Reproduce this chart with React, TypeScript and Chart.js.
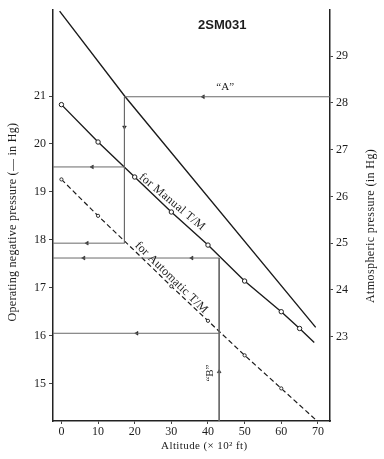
import React, { useEffect, useRef } from "react";
import { Chart, registerables } from "chart.js";

Chart.register(...registerables);

// ---- Data ----
// Altitude in units of 10^2 ft
const manualAltitudes = [0, 10, 20, 30, 40, 50, 60, 65, 69];
const manualValues = [20.82, 20.04, 19.31, 18.58, 17.89, 17.14, 16.5, 16.15, 15.86];
const manualMarkers = [1, 1, 1, 1, 1, 1, 1, 1, 0];

const autoAltitudes = [0, 10, 20, 30, 40, 50, 60, 69.5];
const autoValues = [19.26, 18.5, 17.77, 17.03, 16.31, 15.59, 14.9, 14.24];
const autoMarkers = [1, 1, 0, 1, 1, 1, 1, 0];

const atmAltitudes = [-0.5, 17.4, 69.4];
const atmValues = [29.96, 28.13, 23.2];

const xTicks = [0, 10, 20, 30, 40, 50, 60, 70];
const leftTicks = [15, 16, 17, 18, 19, 20, 21];
const rightTicks = [23, 24, 25, 26, 27, 28, 29];

const xRange = [-2.3, 73.3];
const leftRange = [14.22, 22.79];
const rightRange = [21.2, 29.98];

// Example "A": altitude 17.2 (x10^2 ft), atmospheric 28.13 in Hg
const exampleA = { alt: 17.2, atm: 28.13, left: 20.98, manual: 19.52, auto: 17.93 };
// Example "B": altitude 43.05 (x10^2 ft)
const exampleB = { alt: 43.05, manual: 17.62, auto: 16.05 };

// arrows: [altitude, value, direction(deg)]
const arrowsLeft = [
  [17.2, 20.35, 180],
  [8.4, 19.52, 270],
  [7.0, 17.93, 270],
  [6.1, 17.62, 270],
  [35.6, 17.62, 270],
  [20.6, 16.05, 270],
  [43.05, 15.25, 0],
];
const arrowsRight = [[38.7, 28.13, 270]];

const SERIF = "'Liberation Serif', 'DejaVu Serif', serif";
const INK = "#1c1c1c";
const GUIDE = "#6a6a6a";

const pts = (xs: number[], ys: number[]) => xs.map((x, i) => ({ x, y: ys[i] }));

const textPlugin = {
  id: "annotText",
  afterDraw(chart: any) {
    const { ctx, scales } = chart;
    const X = scales.x;
    const L = scales.y;
    const R = scales.y1;
    const put = (
      text: string,
      px: number,
      py: number,
      deg: number,
      font: string,
      spacing = 0
    ) => {
      ctx.save();
      ctx.translate(px, py);
      ctx.rotate((deg * Math.PI) / 180);
      ctx.font = font;
      ctx.fillStyle = INK;
      ctx.textAlign = "center";
      ctx.textBaseline = "middle";
      (ctx as any).letterSpacing = spacing + "px";
      ctx.fillText(text, 0, 0);
      ctx.restore();
    };
    put("2SM031", X.getPixelForValue(43.9), R.getPixelForValue(29.65), 0,
      "bold 13px 'Liberation Sans', Arial, sans-serif");
    put("\u201CA\u201D", X.getPixelForValue(44.7), R.getPixelForValue(28.34), 0, `11px ${SERIF}`);
    put("for Manual T/M", X.getPixelForValue(30.2), L.getPixelForValue(18.79), 40, `12px ${SERIF}`, 0.3);
    put("for Automatic T/M", X.getPixelForValue(30.0), L.getPixelForValue(17.21), 44.5, `12px ${SERIF}`, 0.3);
    put("\u201CB\u201D", X.getPixelForValue(40.6), L.getPixelForValue(15.22), -90, `11px ${SERIF}`);
    put("Operating negative pressure (\u2014 in Hg)", chart.chartArea.left - 40, L.getPixelForValue(18.37), -90,
      `12px ${SERIF}`, 0.3);
    put("Atmospheric pressure (in Hg)", chart.chartArea.right + 41, R.getPixelForValue(25.37), -90,
      `12px ${SERIF}`, 0.4);
    put("Altitude (\u00D7 10\u00B2 ft)", X.getPixelForValue(39.0), chart.chartArea.bottom + 25, 0,
      `11px ${SERIF}`, 0.4);
  },
};

const guide = (data: any[], axis = "y") => ({
  type: "line" as const,
  data,
  yAxisID: axis,
  borderColor: GUIDE,
  borderWidth: 1,
  pointRadius: 0,
  showLine: true,
  fill: false,
});

const arrowSet = (list: number[][], axis: string) => ({
  type: "scatter" as const,
  data: list.map((a) => ({ x: a[0], y: a[1] })),
  yAxisID: axis,
  pointStyle: "triangle",
  pointRadius: 2.2,
  rotation: list.map((a) => a[2]),
  backgroundColor: "#222",
  borderColor: "#222",
  borderWidth: 0.5,
  showLine: false,
});

export default function App() {
  const ref = useRef<HTMLCanvasElement | null>(null);

  useEffect(() => {
    if (!ref.current) return;
    const chart = new Chart(ref.current, {
      type: "scatter",
      data: {
        datasets: [
          guide([{ x: exampleA.alt, y: exampleA.atm }, { x: xRange[1], y: exampleA.atm }], "y1"),
          guide([{ x: exampleA.alt, y: exampleA.left }, { x: exampleA.alt, y: exampleA.auto }]),
          guide([{ x: xRange[0], y: exampleA.manual }, { x: exampleA.alt, y: exampleA.manual }]),
          guide([{ x: xRange[0], y: exampleA.auto }, { x: exampleA.alt, y: exampleA.auto }]),
          guide([{ x: exampleB.alt, y: exampleB.manual }, { x: exampleB.alt, y: leftRange[0] }]),
          guide([{ x: xRange[0], y: exampleB.manual }, { x: exampleB.alt, y: exampleB.manual }]),
          guide([{ x: xRange[0], y: exampleB.auto }, { x: exampleB.alt, y: exampleB.auto }]),
          {
            type: "line",
            data: pts(atmAltitudes, atmValues),
            yAxisID: "y1",
            borderColor: INK,
            borderWidth: 1.4,
            pointRadius: 0,
            fill: false,
          },
          {
            type: "line",
            data: pts(manualAltitudes, manualValues),
            yAxisID: "y",
            borderColor: INK,
            borderWidth: 1.4,
            pointRadius: manualMarkers.map((m) => (m ? 2.2 : 0)),
            pointBackgroundColor: "#fff",
            pointBorderColor: INK,
            pointBorderWidth: 1,
            fill: false,
          },
          {
            type: "line",
            data: pts(autoAltitudes, autoValues),
            yAxisID: "y",
            borderColor: INK,
            borderWidth: 1.2,
            borderDash: [5, 3],
            pointRadius: autoMarkers.map((m) => (m ? 1.6 : 0)),
            pointBackgroundColor: "#fff",
            pointBorderColor: INK,
            pointBorderWidth: 0.9,
            fill: false,
          },
          arrowSet(arrowsLeft, "y"),
          arrowSet(arrowsRight, "y1"),
        ] as any,
      },
      options: {
        responsive: false,
        animation: false,
        layout: { padding: { top: 10, left: 0, right: 0, bottom: 0 } },
        plugins: { legend: { display: false }, tooltip: { enabled: false } },
        elements: { line: { tension: 0 } },
        scales: {
          x: {
            type: "linear",
            position: "bottom",
            min: xRange[0],
            max: xRange[1],
            afterBuildTicks: (s: any) => {
              s.ticks = xTicks.map((v) => ({ value: v }));
            },
            afterFit: (s: any) => {
              s.height = 38;
            },
            ticks: {
              font: { family: SERIF, size: 12 },
              color: INK,
              padding: 1,
              maxRotation: 0,
              autoSkip: false,
            },
            grid: { drawOnChartArea: false, tickLength: 3, color: "#444" },
            border: { color: "#222", width: 1.5 },
          },
          y: {
            type: "linear",
            position: "left",
            min: leftRange[0],
            max: leftRange[1],
            afterBuildTicks: (s: any) => {
              s.ticks = leftTicks.map((v) => ({ value: v }));
            },
            afterFit: (s: any) => {
              s.width = 53;
            },
            ticks: { font: { family: SERIF, size: 12 }, color: INK, padding: 3, autoSkip: false },
            grid: { drawOnChartArea: false, tickLength: 4, color: "#444" },
            border: { color: "#222", width: 1.5 },
          },
          y1: {
            type: "linear",
            position: "right",
            min: rightRange[0],
            max: rightRange[1],
            afterBuildTicks: (s: any) => {
              s.ticks = rightTicks.map((v) => ({ value: v }));
            },
            afterFit: (s: any) => {
              s.width = 54;
            },
            ticks: { font: { family: SERIF, size: 12 }, color: INK, padding: 3, autoSkip: false },
            grid: { drawOnChartArea: false, tickLength: 3, color: "#444" },
            border: { color: "#222", width: 1.5 },
          },
        },
      } as any,
      plugins: [textPlugin],
    });
    return () => chart.destroy();
  }, []);

  return (
    <div style={{ position: "fixed", left: 0, top: 0, width: 384, height: 459, background: "#fff" }}>
      <canvas ref={ref} width={384} height={459} style={{ display: "block" }} />
    </div>
  );
}
